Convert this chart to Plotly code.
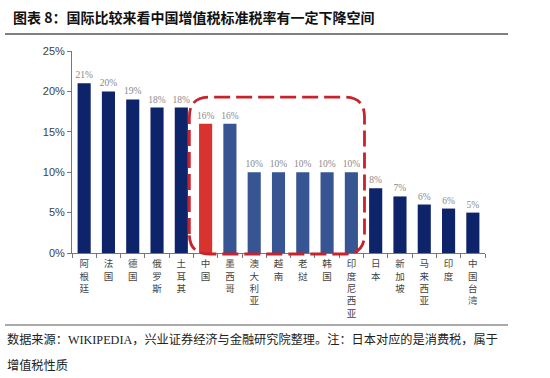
import plotly.graph_objects as go

categories = ["阿根廷", "法国", "德国", "俄罗斯", "土耳其", "中国", "墨西哥", "澳大利亚",
              "越南", "老挝", "韩国", "印度尼西亚", "日本", "新加坡", "马来西亚", "印度", "中国台湾"]
vat_rates = [21, 20, 19, 18, 18, 16, 16, 10, 10, 10, 10, 10, 8, 7, 6, 5.5, 5]
value_labels = ["21%", "20%", "19%", "18%", "18%", "16%", "16%", "10%", "10%", "10%",
                "10%", "10%", "8%", "7%", "6%", "6%", "5%"]
groups = ["other"] * 5 + ["china"] + ["peer"] * 6 + ["other"] * 5
y_ticks = [0, 5, 10, 15, 20, 25]
y_tick_labels = ["0%", "5%", "10%", "15%", "20%", "25%"]
highlight_first, highlight_last = "中国", "印度尼西亚"

color_map = {"other": "#0e246a", "china": "#d8332f", "peer": "#375493"}
bar_colors = [color_map[g] for g in groups]
tick_text = ["<br>".join(list(c)) for c in categories]

fig = go.Figure()
fig.add_trace(go.Bar(
    x=categories, y=vat_rates, marker_color=bar_colors, marker_line_width=0,
    text=value_labels, textposition="outside", cliponaxis=False, constraintext="none",
    textfont=dict(family="Liberation Serif, Times New Roman, serif", size=9.5, color="#8a8a8a"),
    width=0.54,
))

L, R, T, B = 72, 65, 51, 125
W, H = 550, 378
pw, ph = W - L - R, H - T - B

def px_x(p):
    return (p - L) / pw

def px_y(p):
    return (H - B - p) / ph

n = len(categories)
def cat_paper(idx):
    return (idx + 0.5) / n

# highlight box
i0 = categories.index(highlight_first)
i1 = categories.index(highlight_last)
x0 = cat_paper(i0 - 0.67)
x1 = cat_paper(i1 + 0.54)
y0 = -0.005
y1 = 19.3 / 25
rx, ry = 20 / pw, 20 / ph
path = (f"M {x0},{y0+ry} L {x0},{y1-ry} Q {x0},{y1} {x0+rx},{y1} "
        f"L {x1-rx},{y1} Q {x1},{y1} {x1},{y1-ry} L {x1},{y0+ry} "
        f"Q {x1},{y0} {x1-rx},{y0} L {x0+rx},{y0} Q {x0},{y0} {x0},{y0+ry} Z")

shapes = [
    dict(type="path", path=path, xref="paper", yref="paper",
         line=dict(color="#c8222c", width=2.8, dash="16px,6px"), layer="above"),
    dict(type="line", xref="paper", yref="paper", x0=px_x(5), x1=px_x(508),
         y0=px_y(34), y1=px_y(34), line=dict(color="#555555", width=1.5)),
    dict(type="line", xref="paper", yref="paper", x0=px_x(5), x1=px_x(508),
         y0=px_y(325), y1=px_y(325), line=dict(color="#555555", width=1.2)),
]

annotations = [
    dict(text="<b>图表 8：国际比较来看中国增值税标准税率有一定下降空间</b>", xref="paper", yref="paper",
         x=px_x(11), y=px_y(17), xanchor="left", yanchor="middle", showarrow=False,
         font=dict(family="Noto Sans CJK SC", size=14, color="#111111")),
    dict(text="数据来源：<span style='font-family:Liberation Serif'>WIKIPEDIA</span>，兴业证券经济与金融研究院整理。注：日本对应的是消费税，属于",
         xref="paper", yref="paper", x=px_x(5), y=px_y(339), xanchor="left", yanchor="middle",
         showarrow=False, font=dict(family="Noto Sans CJK SC", size=12.2, color="#222222")),
    dict(text="增值税性质", xref="paper", yref="paper", x=px_x(5), y=px_y(365),
         xanchor="left", yanchor="middle", showarrow=False,
         font=dict(family="Noto Sans CJK SC", size=12.2, color="#222222")),
]

fig.update_layout(
    width=W, height=H, margin=dict(l=L, r=R, t=T, b=B, autoexpand=False),
    paper_bgcolor="white", plot_bgcolor="white", showlegend=False,
    shapes=shapes, annotations=annotations, bargap=0.46,
    xaxis=dict(type="category", tickmode="array", tickvals=categories, ticktext=tick_text,
               tickson="boundaries", ticks="outside", ticklen=4, tickcolor="#777777",
               showline=True, linecolor="#777777", linewidth=1, showgrid=False,
               tickangle=0, ticklabelstandoff=2,
               tickfont=dict(family="Noto Sans CJK SC", size=9.5, color="#444444"),
               range=[-0.5, n - 0.5]),
    yaxis=dict(range=[0, 25], tickvals=y_ticks, ticktext=y_tick_labels, ticks="outside",
               ticklen=4, tickcolor="#777777", showline=True, linecolor="#777777", linewidth=1,
               showgrid=False, zeroline=False,
               tickfont=dict(family="Liberation Sans, Arial", size=11, color="#404040")),
)

fig.write_html("out.html", config={"displayModeBar": False},
               post_script="document.body.style.margin='0';document.body.style.padding='0';")
